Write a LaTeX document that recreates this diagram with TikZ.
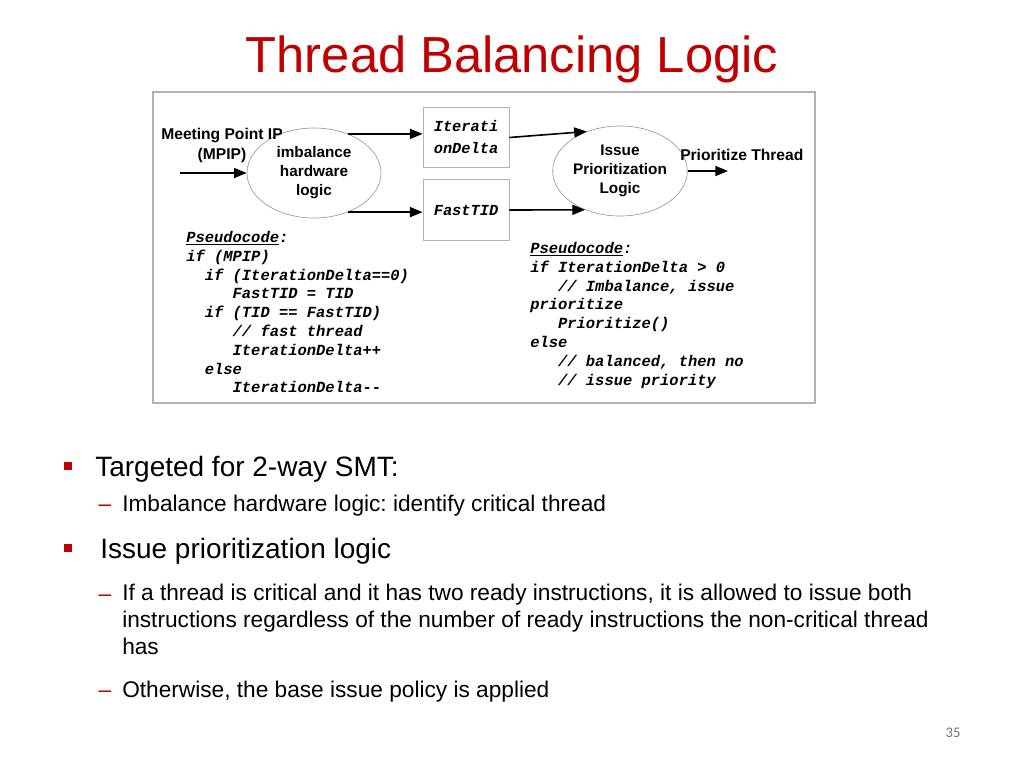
\documentclass[tikz,border=0pt]{standalone}
\usepackage{fontspec}
\setmainfont{Liberation Sans}
\setmonofont{Liberation Mono}
\newfontfamily\pagefont{Carlito}
\usetikzlibrary{positioning,arrows.meta,shapes.geometric}
\definecolor{slred}{RGB}{192,0,0}
\frenchspacing
\tikzset{
  logic/.style={ellipse,draw=black!40,line width=0.5pt,inner sep=0pt,minimum width=100.5pt,minimum height=67.5pt,align=center,font=\fontsize{11.5}{14.25}\selectfont\bfseries},
  reg/.style={draw=black!30,line width=0.6pt,minimum width=64.5pt,minimum height=45.5pt,inner sep=0pt,align=left,font=\fontsize{11.5}{16.5}\selectfont\ttfamily\bfseries\itshape},
  flow/.style={-{Triangle[length=9.5pt,width=7.5pt]},line width=1.2pt},
  code/.style={anchor=north west,inner sep=0pt,align=left,font=\fontsize{11.6}{14.1}\selectfont\ttfamily\bfseries\itshape},
  lbl/.style={align=center,inner sep=0pt,font=\fontsize{11.7}{15}\selectfont\bfseries},
  bul/.style={fill=slred,minimum size=6pt,inner sep=0pt},
  dsh/.style={anchor=base,text=slred,inner sep=0pt,font=\fontsize{17}{20}\selectfont},
  lvone/.style={anchor=base west,inner sep=0pt,font=\fontsize{21}{25}\selectfont},
  lvtwo/.style={anchor=base west,inner sep=0pt,align=left,font=\fontsize{17}{20.25}\selectfont},
}

\begin{document}
\begin{tikzpicture}[x=0.75pt,y=-0.75pt]
\useasboundingbox (0,0) rectangle (1024,768);
% title
\node[anchor=base,text=slred,font=\fontsize{38}{44}\selectfont] (title) at (512,72) {Thread Balancing Logic};
% diagram frame
\draw[draw=black!30,line width=0.8pt] (153,92) rectangle (815,403);
% logic blocks and registers
\node[logic] (imb) at (314,173) {imbalance\\hardware\\logic};
\node[logic,minimum width=101pt] (iss) at (620,171) {Issue\\Prioritization\\Logic};
\node[reg] (itd) at (466,137.5) {Iterati\\onDelta};
\node[reg] (ftid) at (466,210) {FastTID};
\node[lbl] (mpip) at (222,145) {Meeting Point IP\\(MPIP)};
\node[lbl,anchor=west] (prio) at (680,155) {Prioritize Thread};
\coordinate (in) at (180,173);
\coordinate (out) at (728,171);
% connections
\draw[flow] (in) -- (imb.west);
\draw[flow] (imb.49) -- (imb.49 -| itd.west);
\draw[flow] (imb.-49) -- (imb.-49 -| ftid.west);
\draw[flow] (itd.east) -- (iss.130);
\draw[flow] (ftid.east) -- (iss.-132);
\draw[flow] (iss.east) -- (out);
% pseudocode
\node[code] (lcode) at (186,231) {\underline{Pseudocode}:\\
if (MPIP)\\
~~if (IterationDelta==0)\\
~~~~~FastTID = TID\\
~~if (TID == FastTID)\\
~~~~~// fast thread\\
~~~~~IterationDelta++\\
~~else\\
~~~~~IterationDelta\mbox{-}\mbox{-}};
\node[code] (rcode) at (530,242) {\underline{Pseudocode}:\\
if IterationDelta > 0\\
~~~// Imbalance, issue\\
prioritize\\
~~~Prioritize()\\
else\\
~~~// balanced, then no\\
~~~// issue priority};
% bullets
\node[bul] (b1) at (68,466) {};
\node[lvone] (t1) at (95,476) {Targeted for 2-way SMT:};
\node[dsh] (d1) at (105,511) {–};
\node[lvtwo] (t2) at (122,511) {Imbalance hardware logic: identify critical thread};
\node[bul] (b2) at (68,548) {};
\node[lvone] (t3) at (100,558) {Issue prioritization logic};
\node[dsh] (d2) at (105,601) {–};
\node[lvtwo,anchor=north west] (t4) at (122,584) {If a thread is critical and it has two ready instructions, it is allowed to issue both\\
instructions regardless of the number of ready instructions the non-critical thread\\
has};
\node[dsh] (d3) at (105,697) {–};
\node[lvtwo] (t5) at (122,697) {Otherwise, the base issue policy is applied};
\node[text=black!55,font=\pagefont\fontsize{11}{13}\selectfont] (pg) at (953,733) {35};
\end{tikzpicture}
\end{document}
